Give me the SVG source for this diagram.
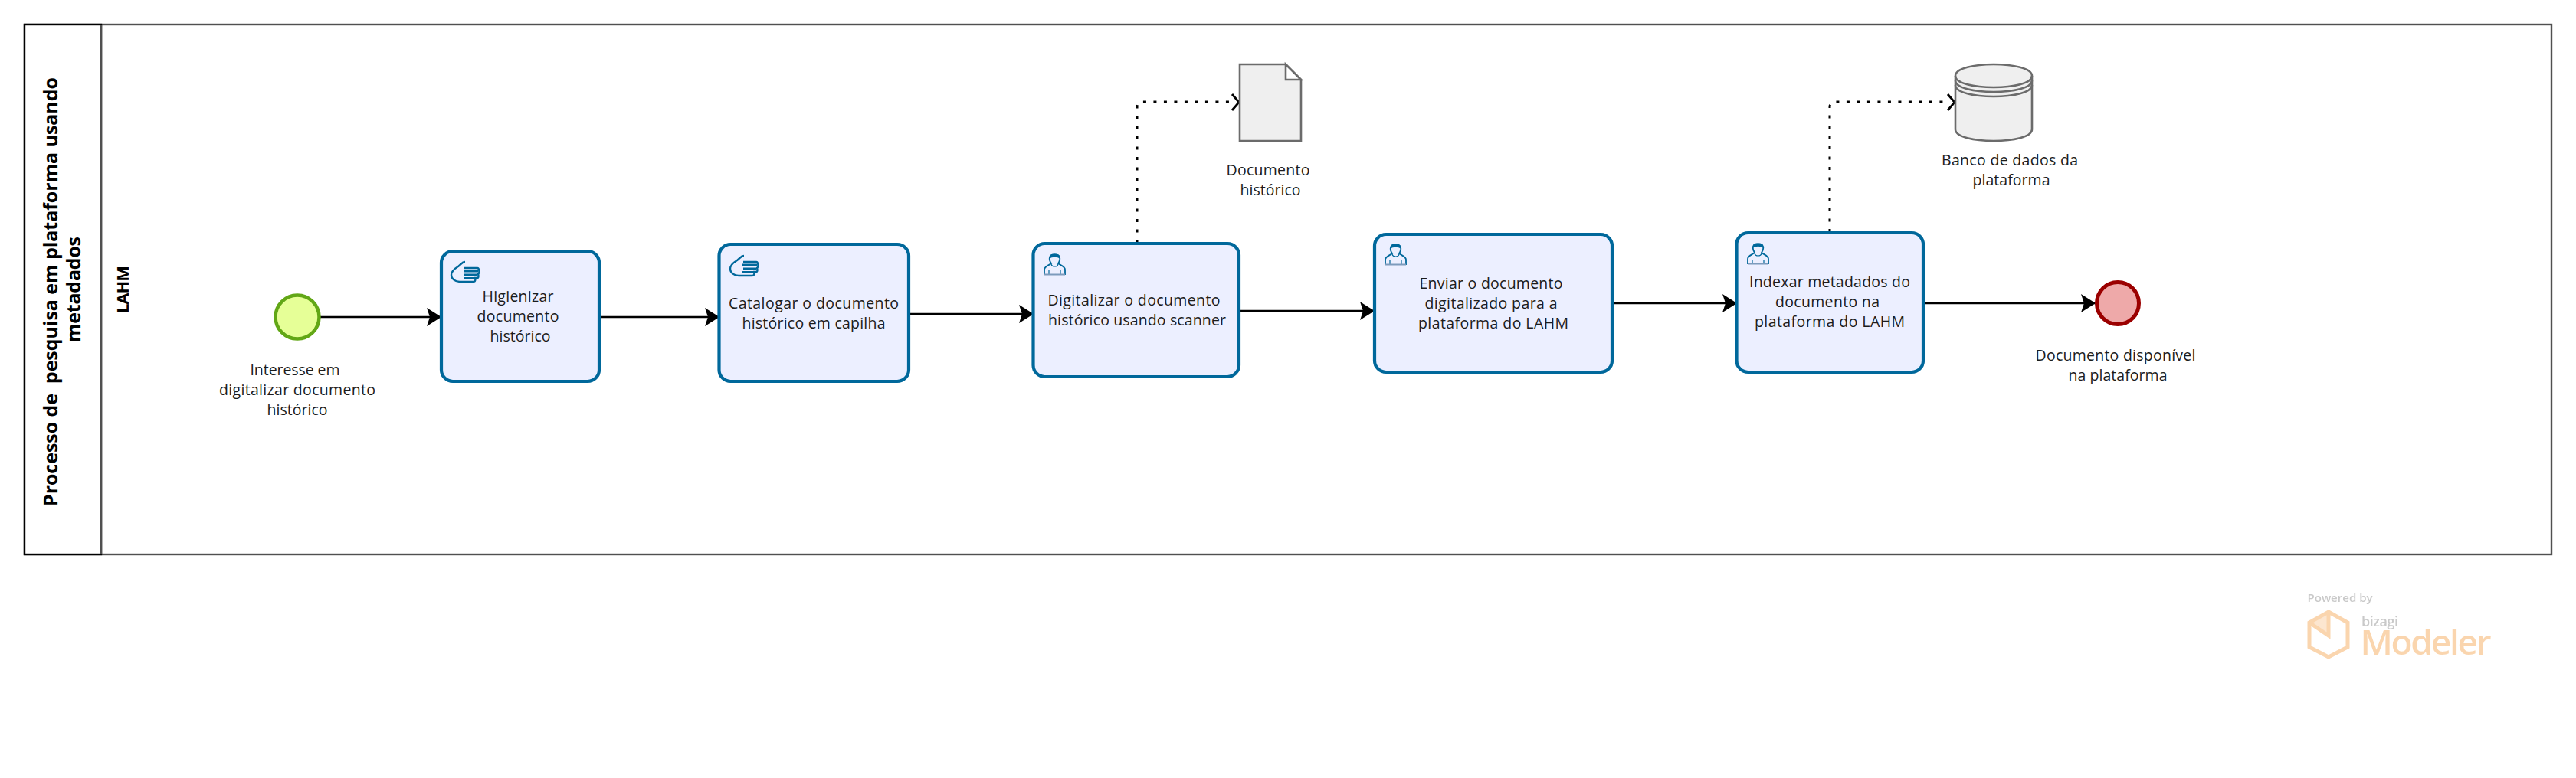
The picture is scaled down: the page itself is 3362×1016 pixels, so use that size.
<svg xmlns="http://www.w3.org/2000/svg" width="3362" height="1016" viewBox="0 0 3362 1016">
<style>
text{font-family:"Open Sans","Noto Sans","Liberation Sans",sans-serif;font-size:19.5px;fill:#1c1c1c;text-anchor:middle;white-space:pre}
.tt{font-weight:700;font-size:25px;fill:#000}
.task{fill:#ECEFFF;stroke:#00689B;stroke-width:4.2}
.flow{fill:none;stroke:#000;stroke-width:2.6}
.assoc{fill:none;stroke:#000;stroke-width:3;stroke-dasharray:4 9.5}
.data{fill:#EFEFEF;stroke:#6B6B6B;stroke-width:2.6}
.ic{fill:none;stroke:#00689B;stroke-width:1.8}
</style>
<defs>
<marker id="seq" markerUnits="userSpaceOnUse" markerWidth="24" markerHeight="28" refX="20" refY="13" orient="auto"><path d="M1 1L20 13L1 25L5 13Z" fill="#000"/></marker>
<filter id="soft" x="-5%" y="-5%" width="110%" height="110%"><feGaussianBlur stdDeviation="0.7"/></filter>
<g id="hand">
<path class="ic" style="stroke-width:2.4" d="M19 1C15 1 14 4 10 7C5 10 1 13 1 18C1 23 6 27 12 27L30 27C33 27 33 22 31 22L35 22C37 22 37 17 35 17L36 17C38 17 38 9 35 9L18 9"/>
<path d="M17 13H36M18 18H35M17 22.500H31" stroke="#00689B" stroke-width="3" fill="none"/>
</g>
<g id="person">
<path class="ic" d="M1 28V21C1 17 6 16 10 13C8 10 7 8 8 5C10 0 19 0 21 5C22 8 21 10 19 13C23 16 28 17 28 21V28"/>
<path d="M7.500 7C7 1 10 1 14.500 1C19 1 22 1 21.500 7C18 4 11 4 7.500 7Z" fill="#00689B"/>
<path d="M10 14C11 18 18 18 19 14M7 22V27M22 22V27" class="ic" style="stroke-width:1.2"/>
<path d="M1 27.500H28" stroke="#7D9BBC" stroke-width="2"/>
</g>
</defs>

<g id="pool">
<rect x="32" y="32" width="3298" height="692" fill="#fff" stroke="#505050" stroke-width="2.4"/>
<rect x="32" y="32" width="100" height="692" fill="#fff" stroke="#000" stroke-width="2.4"/>
<path d="M132 32V724" stroke="#505050" stroke-width="2.4"/>
<text class="tt" transform="translate(75 381) rotate(-90)" textLength="560">Processo de  pesquisa em plataforma usando</text>
<text class="tt" transform="translate(105 378) rotate(-90)" textLength="138">metadados</text>
<text class="tt" style="font-size:22px" transform="translate(168 378) rotate(-90)" textLength="62">LAHM</text>
</g>

<g id="connectors">
<path class="flow" marker-end="url(#seq)" d="M417 414H576"/>
<path class="flow" marker-end="url(#seq)" d="M783 414H939"/>
<path class="flow" marker-end="url(#seq)" d="M1187 410H1349"/>
<path class="flow" marker-end="url(#seq)" d="M1618 406H1794"/>
<path class="flow" marker-end="url(#seq)" d="M2104 396H2267"/>
<path class="flow" marker-end="url(#seq)" d="M2510 396H2735"/>
<path class="assoc" d="M1484 317V140Q1484 133 1491 133H1605"/>
<path fill="none" stroke="#000" stroke-width="2.8" d="M1608 123L1617 133.500L1608 144"/>
<path class="assoc" d="M2388 303V140Q2388 133 2395 133H2540"/>
<path fill="none" stroke="#000" stroke-width="2.8" d="M2542 123L2551 133.500L2542 144"/>
</g>

<g id="start">
<circle cx="388" cy="414" r="28.500" fill="#E6FF97" stroke="#62A716" stroke-width="4.500"/>
<text x="385" y="490" textLength="117">Interesse em</text>
<text x="388" y="516" textLength="204">digitalizar documento</text>
<text x="388" y="542" textLength="79">histórico</text>
</g>

<g id="task1">
<rect class="task" x="576" y="328" width="206" height="170" rx="15"/>
<use href="#hand" x="588" y="341"/>
<text x="676" y="394" textLength="93">Higienizar</text>
<text x="676" y="420" textLength="107">documento</text>
<text x="679" y="446" textLength="79">histórico</text>
</g>

<g id="task2">
<rect class="task" x="938.500" y="319" width="247.500" height="179" rx="15"/>
<use href="#hand" x="952" y="333"/>
<text x="1062" y="403" textLength="222">Catalogar o documento</text>
<text x="1062" y="429" textLength="187">histórico em capilha</text>
</g>

<g id="task3">
<rect class="task" x="1348.500" y="318" width="268.500" height="174" rx="15"/>
<use href="#person" x="1362" y="331"/>
<text x="1480" y="399" textLength="225">Digitalizar o documento</text>
<text x="1484" y="425" textLength="232">histórico usando scanner</text>
</g>

<g id="doc">
<path class="data" d="M1618 84H1678L1698 104V184H1618Z"/>
<path d="M1678 84V104H1698Z" fill="#fff" stroke="#6B6B6B" stroke-width="2.600"/>
<text x="1655" y="229" textLength="109">Documento</text>
<text x="1658" y="255" textLength="79">histórico</text>
</g>

<g id="task4">
<rect class="task" x="1794" y="306" width="310" height="180" rx="15"/>
<use href="#person" x="1807" y="318"/>
<text x="1946" y="377" textLength="187">Enviar o documento</text>
<text x="1946" y="403" textLength="173">digitalizado para a</text>
<text x="1949" y="429" textLength="196">plataforma do LAHM</text>
</g>

<g id="task5">
<rect class="task" x="2266.500" y="304" width="243.500" height="182" rx="15"/>
<use href="#person" x="2280" y="317"/>
<text x="2388" y="375" textLength="210">Indexar metadados do</text>
<text x="2385" y="401" textLength="136">documento na</text>
<text x="2388" y="427" textLength="196">plataforma do LAHM</text>
</g>

<g id="database">
<path class="data" d="M2552 99C2552 79 2652 79 2652 99V169C2652 189 2552 189 2552 169Z"/>
<path d="M2552 99C2552 119 2652 119 2652 99M2552 105C2552 125 2652 125 2652 105M2552 111C2552 131 2652 131 2652 111" fill="none" stroke="#6B6B6B" stroke-width="2.600"/>
<text x="2623" y="216" textLength="178">Banco de dados da</text>
<text x="2625" y="242" textLength="101">plataforma</text>
</g>

<g id="end">
<circle cx="2764" cy="396" r="27.500" fill="#EEA9A9" stroke="#9B0000" stroke-width="5"/>
<text x="2761" y="471" textLength="209">Documento disponível</text>
<text x="2764" y="497" textLength="129">na plataforma</text>
</g>

<g id="logo" filter="url(#soft)">
<path d="M3039 830V799L3015 813Z" fill="#FCE6D0"/>
<path d="M3039 799L3064 813V845L3039 858L3014 845V813ZM3039 799V830L3014 813" fill="none" stroke="#FAD5AE" stroke-width="5"/>
<text x="3054" y="786" textLength="85" style="font-size:15px;font-weight:600;fill:#c9c9c9">Powered by</text>
<text x="3106" y="818" textLength="48" style="font-size:18px;font-weight:600;fill:#c9c9c9">bizagi</text>
<text x="3166" y="855" textLength="171" style="font-size:46px;font-weight:600;fill:#FAD5AE">Modeler</text>
</g>
</svg>
